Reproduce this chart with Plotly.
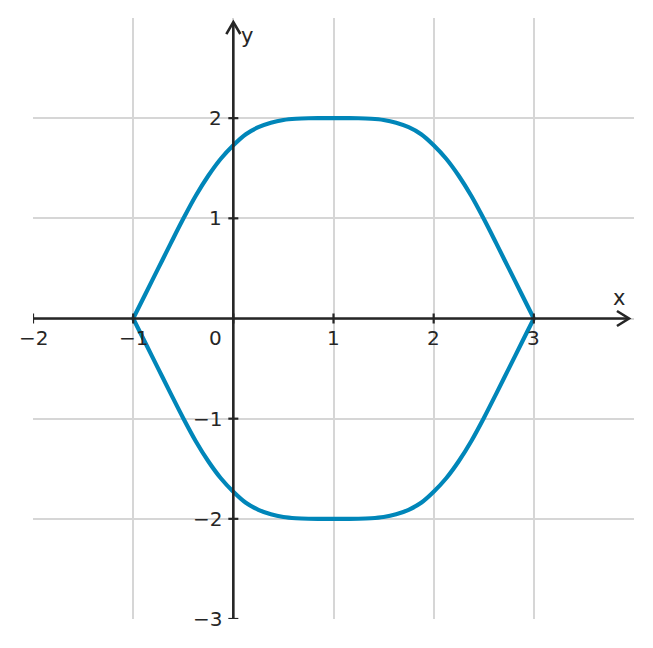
import plotly.graph_objects as go

# upper branch of the closed curve
x_vals = [-1.0, -0.875, -0.75, -0.625, -0.5, -0.375, -0.25, -0.125, 0.0,
          0.125, 0.25, 0.375, 0.5, 0.625, 0.75, 0.875, 1.0,
          1.125, 1.25, 1.375, 1.5, 1.625, 1.75, 1.875, 2.0,
          2.125, 2.25, 2.375, 2.5, 2.625, 2.75, 2.875, 3.0]
y_upper = [0.0, 0.25, 0.5, 0.75, 0.995, 1.225, 1.425, 1.595, 1.73,
           1.84, 1.91, 1.955, 1.982, 1.994, 1.999, 2.0, 2.0,
           2.0, 1.999, 1.994, 1.982, 1.955, 1.91, 1.84, 1.73,
           1.595, 1.425, 1.225, 0.995, 0.75, 0.5, 0.25, 0.0]
y_lower = [-v for v in y_upper]

x_ticks = [-2, -1, 0, 1, 2, 3]
x_tick_text = ["\u22122", "\u22121", "0", "1", "2", "3"]
y_ticks = [-3, -2, -1, 1, 2]
y_tick_text = ["\u22123", "\u22122", "\u22121", "1", "2"]

CURVE = "#0086b9"
INK = "#262626"
FONT = "DejaVu Sans"

fig = go.Figure()
for ys in (y_upper, y_lower):
    fig.add_trace(go.Scatter(x=x_vals, y=ys, mode="lines", line_shape="spline",
                             line=dict(color=CURVE, width=4.2, smoothing=1),
                             showlegend=False, hoverinfo="skip"))

# axes through the origin, with open arrow heads
shapes = [
    dict(type="line", x0=-2, x1=3.95, y0=0, y1=0, line=dict(color=INK, width=2.6)),
    dict(type="line", x0=0, x1=0, y0=-3, y1=2.96, line=dict(color=INK, width=2.6)),
    dict(type="path", path="M 3.83,0.075 L 3.95,0 L 3.83,-0.075",
         line=dict(color=INK, width=2.6)),
    dict(type="path", path="M -0.07,2.84 L 0,2.96 L 0.07,2.84",
         line=dict(color=INK, width=2.6)),
]
for t in x_ticks:
    shapes.append(dict(type="line", x0=t, x1=t, y0=-0.05, y1=0.05,
                       line=dict(color=INK, width=2.2)))
for t in y_ticks:
    shapes.append(dict(type="line", x0=-0.05, x1=0.05, y0=t, y1=t,
                       line=dict(color=INK, width=2.2)))

annotations = []
for t, s in zip(x_ticks, x_tick_text):
    annotations.append(dict(x=t, y=0, text=s, showarrow=False, yshift=-19,
                            xshift=-18 if t == 0 else 0,
                            font=dict(family=FONT, size=20, color=INK)))
for t, s in zip(y_ticks, y_tick_text):
    annotations.append(dict(x=0, y=t, text=s, showarrow=False, xanchor="right",
                            xshift=-9, font=dict(family=FONT, size=20, color=INK)))
annotations.append(dict(x=3.85, y=0.2, text="x", showarrow=False,
                        font=dict(family=FONT, size=21, color=INK)))
annotations.append(dict(x=0.14, y=2.82, text="y", showarrow=False,
                        font=dict(family=FONT, size=21, color=INK)))

# page body adds 8px on top/left, so the figure is drawn 8px smaller
fig.update_layout(
    width=645, height=640,
    margin=dict(l=25, r=19, t=10, b=29),
    plot_bgcolor="white", paper_bgcolor="white",
    shapes=shapes, annotations=annotations,
    xaxis=dict(range=[-2, 4], tickvals=[-2, -1, 0, 1, 2, 3], showticklabels=False,
               showgrid=True, gridcolor="#d6d6d6", gridwidth=1.5, zeroline=False,
               showline=False, fixedrange=True),
    yaxis=dict(range=[-3, 3], tickvals=[-3, -2, -1, 0, 1, 2], showticklabels=False,
               showgrid=True, gridcolor="#d6d6d6", gridwidth=1.5, zeroline=False,
               showline=False, fixedrange=True),
)

fig.write_html("out.html")
